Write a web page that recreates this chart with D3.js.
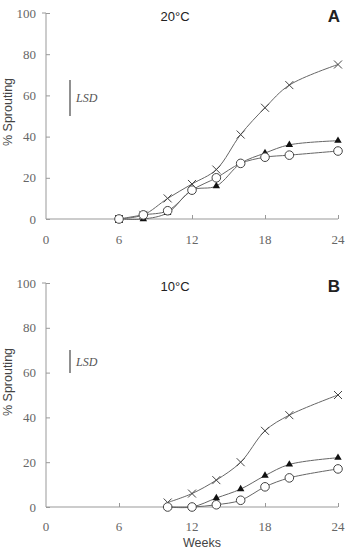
<!DOCTYPE html>
<html><head><meta charset="utf-8">
<script src="https://cdn.jsdelivr.net/npm/d3@7"></script>
<style>body{margin:0;background:#fff}svg{display:block}</style>
</head><body>
<svg id="c" width="350" height="552"></svg>
<script>
const weeksA = [6, 8, 10, 12, 14, 16, 18, 20, 24];
const crossA = [0, 2, 10, 17, 24, 41, 54, 65, 75];
const triA   = [0, 0, 3, 14, 16, 27, 32, 36, 38];
const circA  = [0, 2, 4, 14, 20, 27, 30, 31, 33];

const weeksB = [10, 12, 14, 16, 18, 20, 24];
const crossB = [2, 6, 12, 20, 34, 41, 50];
const triB   = [0, 0, 4, 8, 14, 19, 22];
const circB  = [0, 0, 1, 3, 9, 13, 17];

const xTicks = [0, 6, 12, 18, 24];
const yTicks = [0, 20, 40, 60, 80, 100];

const svg = d3.select("#c");
const x = d3.scaleLinear().domain([0, 24]).range([46, 338]);

const panels = [
  {title: "20\u00B0C", letter: "A", y0: 219, y1: 13, weeks: weeksA, series: [crossA, triA, circA],
   lsd: [80, 116], labelY: 112, tickLabelY: 244},
  {title: "10\u00B0C", letter: "B", y0: 507, y1: 283, weeks: weeksB, series: [crossB, triB, circB],
   lsd: [350, 373], labelY: 382, tickLabelY: 531}
];

const axisCol = "#999", lineCol = "#666", textCol = "#666";

panels.forEach(p => {
  const y = d3.scaleLinear().domain([0, 100]).range([p.y0, p.y1]);
  const g = svg.append("g");

  const ya = g.append("g").attr("transform", `translate(${x(0)},0)`)
    .call(d3.axisRight(y).tickValues(yTicks).tickSize(4).tickFormat(d => ""));
  ya.select(".domain").attr("stroke", axisCol).attr("d", `M0,${p.y0}V${p.y1}H-4`);
  ya.selectAll(".tick line").attr("stroke", axisCol);
  g.selectAll(".ylab").data(yTicks).enter().append("text")
    .attr("x", 36).attr("y", d => y(d) + 4.5).attr("text-anchor", "end")
    .attr("font-family", "Liberation Serif, serif").attr("font-size", 13).attr("fill", textCol)
    .text(d => d);

  const xa = g.append("g").attr("transform", `translate(0,${p.y0})`)
    .call(d3.axisTop(x).tickValues(xTicks.slice(1)).tickSize(4).tickFormat(d => ""));
  xa.select(".domain").attr("stroke", axisCol).attr("d", `M${x(0)},0H${x(24)}`);
  xa.selectAll(".tick line").attr("stroke", axisCol);
  g.selectAll(".xlab").data(xTicks).enter().append("text")
    .attr("x", d => x(d)).attr("y", p.tickLabelY).attr("text-anchor", "middle")
    .attr("font-family", "Liberation Serif, serif").attr("font-size", 13).attr("fill", textCol)
    .text(d => d);

  g.append("text").attr("transform", `translate(12,${p.labelY}) rotate(-90)`)
    .attr("text-anchor", "middle").attr("font-family", "Liberation Sans, Arial, sans-serif")
    .attr("font-size", 12.5).attr("fill", "#444").text("% Sprouting");

  g.append("text").attr("x", 175).attr("y", p.y1 + 8).attr("text-anchor", "middle")
    .attr("font-family", "Liberation Sans, Arial, sans-serif").attr("font-size", 13)
    .attr("fill", "#222").text(p.title);
  g.append("text").attr("x", 340).attr("y", p.y1 + 9).attr("text-anchor", "end")
    .attr("font-family", "Liberation Sans, Arial, sans-serif").attr("font-size", 17)
    .attr("font-weight", "bold").attr("fill", "#222").text(p.letter);

  g.append("line").attr("x1", 70).attr("x2", 70).attr("y1", p.lsd[0]).attr("y2", p.lsd[1])
    .attr("stroke", "#555").attr("stroke-width", 1.3);
  g.append("text").attr("x", 76).attr("y", (p.lsd[0] + p.lsd[1]) / 2 + 4)
    .attr("font-family", "Liberation Serif, serif").attr("font-style", "italic")
    .attr("font-size", 12).attr("fill", "#555").text("LSD");

  const line = d3.line().x(d => x(d[0])).y(d => y(d[1])).curve(d3.curveCatmullRom.alpha(0.5));

  p.series.forEach((vals, si) => {
    const pts = p.weeks.map((w, i) => [w, vals[i]]);
    g.append("path").datum(pts).attr("d", line).attr("fill", "none")
      .attr("stroke", lineCol).attr("stroke-width", 1);
    const m = g.selectAll(null).data(pts).enter().append("g")
      .attr("transform", d => `translate(${x(d[0])},${y(d[1])})`);
    if (si === 0) {
      m.append("path").attr("d", "M-4,-4L4,4M-4,4L4,-4").attr("stroke", "#444").attr("stroke-width", 1);
    } else if (si === 1) {
      m.append("path").attr("d", d3.symbol(d3.symbolTriangle, 24)).attr("fill", "#111");
    } else {
      m.append("circle").attr("r", 4.3).attr("fill", "#fff").attr("stroke", "#444").attr("stroke-width", 1);
    }
  });
});

svg.append("text").attr("x", 202).attr("y", 547).attr("text-anchor", "middle")
  .attr("font-family", "Liberation Sans, Arial, sans-serif").attr("font-size", 12.5)
  .attr("fill", "#444").text("Weeks");
</script>
</body></html>
